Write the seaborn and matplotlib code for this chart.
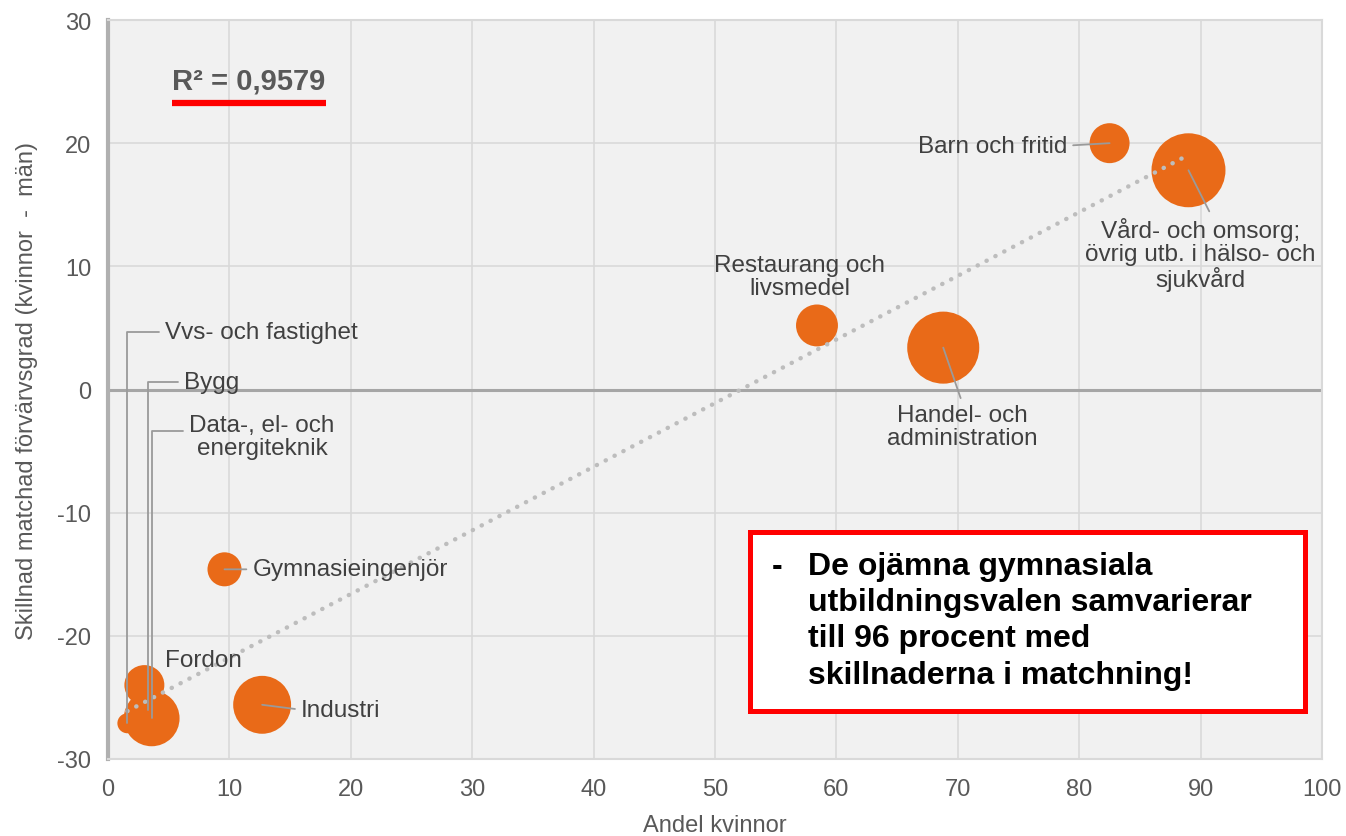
import matplotlib
matplotlib.use("Agg")
import matplotlib.pyplot as plt
import seaborn as sns
import pandas as pd
from matplotlib.patches import Rectangle

# data
program = [
    "Vvs- och fastighet",
    "Bygg",
    "Data-, el- och\nenergiteknik",
    "Fordon",
    "Gymnasieingenjör",
    "Industri",
    "Restaurang och\nlivsmedel",
    "Handel- och\nadministration",
    "Barn och fritid",
    "Vård- och omsorg;\növrig utb. i hälso- och\nsjukvård",
]
andel_kvinnor = [1.6, 3.3, 3.6, 3.0, 9.6, 12.7, 58.4, 68.8, 82.5, 89.0]
skillnad = [-27.1, -26.0, -26.7, -24.0, -14.6, -25.6, 5.2, 3.4, 20.0, 17.8]
antal_elever = [1.0, 3.0, 7.8, 4.0, 2.9, 8.4, 4.4, 13.0, 4.0, 13.7]

x_ticks = list(range(0, 101, 10))
y_ticks = list(range(-30, 31, 10))
r2_text = "R² = 0,9579"
box_text = ("De ojämna gymnasiala\nutbildningsvalen samvarierar\n"
            "till 96 procent med\nskillnaderna i matchning!")

df = pd.DataFrame({"program": program, "andel": andel_kvinnor,
                   "skillnad": skillnad, "antal": antal_elever})

orange = "#E96A18"
grey_txt = "#595959"
label_col = "#404040"

sns.set_theme(style="whitegrid")
narrow = ["Liberation Sans Narrow", "Liberation Sans", "DejaVu Sans"]
plt.rcParams["font.family"] = narrow
plt.rcParams["axes.unicode_minus"] = False

fig = plt.figure(figsize=(13.46, 8.37), dpi=100)
ax = fig.add_axes([0.0802, 0.092, 0.902, 0.8829])
ax.set_facecolor("#f1f1f1")

max_c = max(antal_elever)
sns.scatterplot(data=df, x="andel", y="skillnad", size="antal",
                sizes=(0, 207 * max_c), size_norm=(0, max_c),
                color=orange, edgecolor="none", alpha=1, legend=False,
                ax=ax, zorder=3)

sns.regplot(data=df, x="andel", y="skillnad", scatter=False, ci=None, ax=ax,
            line_kws=dict(color="#bdbdbd", lw=3.2, ls=(0, (0.05, 2.2)),
                          dash_capstyle="round", zorder=4))

ax.set_xlim(0, 100)
ax.set_ylim(-30, 30)
ax.set_xticks(x_ticks)
ax.set_yticks(y_ticks)
ax.grid(True, color="#d9d9d9", lw=1.2)
ax.axhline(0, color="#a6a6a6", lw=2.2, zorder=2)
for side in ["top", "right", "bottom"]:
    ax.spines[side].set_color("#d9d9d9")
    ax.spines[side].set_linewidth(1.5)
ax.spines["left"].set_color("#b0b0b0")
ax.spines["left"].set_linewidth(3)
ax.tick_params(axis="both", length=0, labelsize=17, labelcolor=grey_txt)
ax.tick_params(axis="x", pad=14)
ax.tick_params(axis="y", pad=12)
ax.set_xlabel("Andel kvinnor", fontsize=17, color=grey_txt, labelpad=10)
ax.set_ylabel("Skillnad matchad förvärvsgrad (kvinnor  -  män)", fontsize=17,
              color=grey_txt, labelpad=14)

# label placement: (text x, text y, ha, relpos, connection or None)
layout = [
    (4.7, 4.7, "left", (0, 0.5), "angle,angleA=0,angleB=90,rad=0"),
    (6.3, 0.6, "left", (0, 0.5), "angle,angleA=0,angleB=90,rad=0"),
    (12.7, -3.8, "center", (0, 0.62), "angle,angleA=0,angleB=90,rad=0"),
    (4.7, -22.0, "left", None, None),
    (11.9, -14.6, "left", (0, 0.5), "arc3"),
    (15.9, -26.0, "left", (0, 0.5), "arc3"),
    (57.0, 9.2, "center", None, None),
    (70.4, -3.0, "center", (0.5, 1), "arc3"),
    (79.0, 19.8, "right", (1, 0.5), "arc3"),
    (90.0, 11.0, "center", (0.55, 1), "arc3"),
]
for i, (tx, ty, ha, relpos, conn) in enumerate(layout):
    props = None
    if conn is not None:
        props = dict(arrowstyle="-", color="#9a9a9a", lw=1.3, relpos=relpos,
                     connectionstyle=conn, shrinkA=2, shrinkB=0)
    ax.annotate(df["program"][i], xy=(df["andel"][i], df["skillnad"][i]),
                xytext=(tx, ty), ha=ha, va="center", fontsize=17.5,
                color=label_col, linespacing=1.05, arrowprops=props, zorder=5)

# R² text with red underline
bold = ["Liberation Sans", "DejaVu Sans"]
ax.text(0.0527, 0.9175, r2_text, transform=ax.transAxes, fontsize=21,
        fontweight="bold", color=grey_txt, family=bold,
        va="center", ha="left", zorder=6)
ax.plot([0.0527, 0.1796], [0.8877, 0.8877], transform=ax.transAxes,
        color="#ff0000", lw=4.5, solid_capstyle="butt", zorder=6)

# red framed message box
ax.add_patch(Rectangle((0.5288, 0.065), 0.457, 0.242, transform=ax.transAxes,
                       facecolor="white", edgecolor="#ff0000", lw=3.6, zorder=7))
ax.text(0.547, 0.282, "-", transform=ax.transAxes, fontsize=23, fontweight="bold",
        family=bold, va="top", ha="left", color="black", zorder=8)
ax.text(0.5766, 0.282, box_text, transform=ax.transAxes, fontsize=23,
        fontweight="bold", family=bold, va="top", ha="left", color="black",
        linespacing=1.28, zorder=8)

fig.savefig("out.png", dpi=100)
